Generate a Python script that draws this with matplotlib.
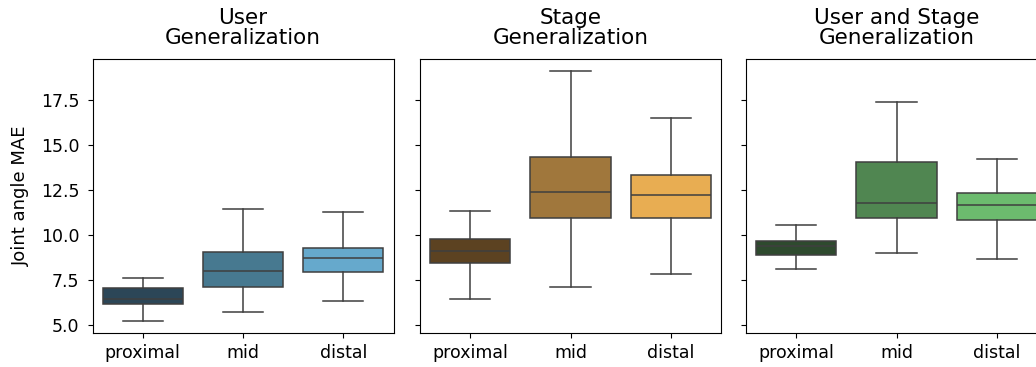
import matplotlib
matplotlib.use("Agg")
import matplotlib.pyplot as plt

# categories and panels
joints = ["proximal", "mid", "distal"]
panels = ["User\nGeneralization", "Stage\nGeneralization", "User and Stage\nGeneralization"]

# box stats: (whislo, q1, med, q3, whishi) per joint
user_stats = [(5.22, 6.16, 6.47, 7.05, 7.62),
              (5.74, 7.10, 8.00, 9.07, 11.42),
              (6.31, 7.95, 8.72, 9.28, 11.27)]
stage_stats = [(6.47, 8.45, 9.09, 9.79, 11.34),
               (7.12, 10.93, 12.37, 14.33, 19.09),
               (7.86, 10.93, 12.23, 13.32, 16.52)]
both_stats = [(8.13, 8.87, 9.39, 9.66, 10.57),
              (9.02, 10.92, 11.79, 14.05, 17.41),
              (8.65, 10.82, 11.65, 12.34, 14.20)]

user_colors = ["#2c4657", "#477990", "#66a9cc"]
stage_colors = ["#5c4221", "#a0773c", "#e8ad52"]
both_colors = ["#2e4a2e", "#508651", "#6cbb6e"]

all_stats = [user_stats, stage_stats, both_stats]
all_colors = [user_colors, stage_colors, both_colors]

line_col = "#3f3f3f"
lw = 1.1

fig = plt.figure(figsize=(10.36, 3.67), dpi=100)
W, H = 1036.0, 367.0
lefts = [92.5, 420.0, 746.0]
ax_w, ax_top, ax_bot = 301.0, 59.0, 333.0

axes = []
for i in range(3):
    ax = fig.add_axes([lefts[i] / W, 1 - ax_bot / H, ax_w / W, (ax_bot - ax_top) / H],
                      sharey=axes[0] if axes else None)
    axes.append(ax)

for i, ax in enumerate(axes):
    stats = []
    for j, s in enumerate(all_stats[i]):
        lo, q1, med, q3, hi = s
        stats.append(dict(label=joints[j], whislo=lo, q1=q1, med=med, q3=q3,
                          whishi=hi, fliers=[]))
    bp = ax.bxp(stats, positions=range(3), widths=0.8, patch_artist=True,
                showfliers=False,
                boxprops=dict(edgecolor=line_col, linewidth=lw),
                medianprops=dict(color=line_col, linewidth=lw),
                whiskerprops=dict(color=line_col, linewidth=lw),
                capprops=dict(color=line_col, linewidth=lw),
                capwidths=0.4)
    for patch, c in zip(bp["boxes"], all_colors[i]):
        patch.set_facecolor(c)
    ax.set_xlim(-0.5, 2.5)
    ax.set_title(panels[i], fontsize=15.5, linespacing=1.0, pad=10.5)
    ax.tick_params(axis="x", labelsize=12.5, pad=4.5)
    ax.tick_params(axis="y", labelsize=12.5, pad=6)
    if i > 0:
        ax.tick_params(axis="y", labelleft=False)

axes[0].set_ylim(4.56, 19.77)
axes[0].set_yticks([5.0, 7.5, 10.0, 12.5, 15.0, 17.5])
axes[0].set_ylabel("Joint angle MAE", fontsize=13, labelpad=8)

fig.savefig("out.png", dpi=100)
